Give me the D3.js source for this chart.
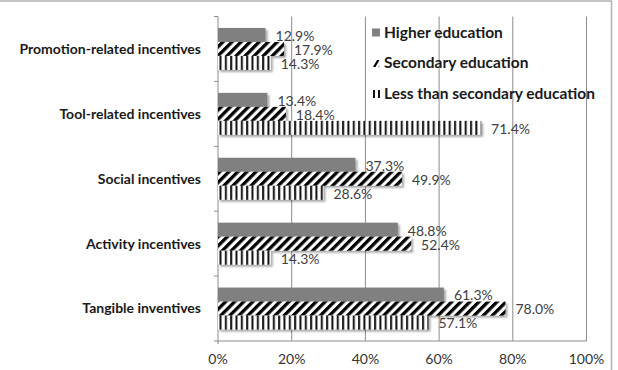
<!DOCTYPE html>
<html>
<head>
<meta charset="utf-8">
<script src="https://cdn.jsdelivr.net/npm/d3@7"></script>
<style>
  body { margin: 0; background: #fff; }
  #main { width: 618px; height: 370px; }
</style>
</head>
<body>
<div id="main"></div>
<script>
'use strict';

var categories = ['Promotion-related incentives', 'Tool-related incentives', 'Social incentives', 'Activity incentives', 'Tangible inventives'];
var seriesNames = ['Higher education', 'Secondary education', 'Less than secondary education'];
var higherEdu = [12.9, 13.4, 37.3, 48.8, 61.3];
var secondaryEdu = [17.9, 18.4, 49.9, 52.4, 78.0];
var lessEdu = [14.3, 71.4, 28.6, 14.3, 57.1];
var xTicks = [0, 20, 40, 60, 80, 100];

var width = 618, height = 370;
var M = { left: 218, right: 586.5, top: 16.5, bottom: 341 };
var svg = d3.select('#main').append('svg').attr('width', width).attr('height', height);
var defs = svg.append('defs');

// patterns + shadow
var diag = defs.append('pattern').attr('id', 'diag')
  .attr('patternUnits', 'userSpaceOnUse').attr('width', 6.4).attr('height', 6.4)
  .attr('patternTransform', 'rotate(45)');
diag.append('rect').attr('width', 6.4).attr('height', 6.4).attr('fill', '#fff');
diag.append('rect').attr('width', 3.3).attr('height', 6.4).attr('fill', '#000');

var vert = defs.append('pattern').attr('id', 'vert')
  .attr('patternUnits', 'userSpaceOnUse').attr('width', 5.33).attr('height', 10);
vert.append('rect').attr('width', 5.33).attr('height', 10).attr('fill', '#fff');
vert.append('rect').attr('x', 1).attr('width', 2).attr('height', 10).attr('fill', '#111');

var shadow = defs.append('filter').attr('id', 'shadow')
  .attr('x', '-10%').attr('y', '-30%').attr('width', '130%').attr('height', '180%');
shadow.append('feGaussianBlur').attr('in', 'SourceAlpha').attr('stdDeviation', 1.2).attr('result', 'b');
shadow.append('feOffset').attr('in', 'b').attr('dx', 2).attr('dy', 2).attr('result', 'o');
shadow.append('feComponentTransfer').attr('in', 'o').attr('result', 's')
  .append('feFuncA').attr('type', 'linear').attr('slope', 0.35);
var mg = shadow.append('feMerge');
mg.append('feMergeNode').attr('in', 's');
mg.append('feMergeNode').attr('in', 'SourceGraphic');

var fills = ['#808080', 'url(#diag)', 'url(#vert)'];

// outer border
svg.append('rect').attr('x', -5).attr('y', 1).attr('width', 616.5).attr('height', 400)
  .attr('fill', 'none').attr('stroke', '#b3b3b3').attr('stroke-width', 1.5);

var x = d3.scaleLinear().domain([0, 100]).range([M.left, M.right]);
var y = d3.scaleBand().domain(categories).range([M.top, M.bottom])
  .paddingInner(0.353).paddingOuter(0.1765);
var ySub = d3.scaleBand().domain(d3.range(3)).range([0, y.bandwidth()]);

// gridlines
svg.append('g').selectAll('line').data(xTicks.slice(1)).enter().append('line')
  .attr('x1', function(d){ return x(d); }).attr('x2', function(d){ return x(d); })
  .attr('y1', M.top).attr('y2', M.bottom)
  .attr('stroke', '#8c8c8c').attr('stroke-width', 1);

// bottom line
svg.append('line').attr('x1', M.left).attr('x2', M.right).attr('y1', M.bottom).attr('y2', M.bottom)
  .attr('stroke', '#8c8c8c');

// y axis with ticks at band edges
var yAxisG = svg.append('g');
yAxisG.append('line').attr('x1', M.left).attr('x2', M.left).attr('y1', M.top).attr('y2', M.bottom + 3)
  .attr('stroke', '#8c8c8c');
var step = y.step();
yAxisG.selectAll('.tk').data(d3.range(categories.length + 1)).enter().append('line')
  .attr('x1', M.left - 4).attr('x2', M.left)
  .attr('y1', function(i){ return M.top + i * step; }).attr('y2', function(i){ return M.top + i * step; })
  .attr('stroke', '#8c8c8c');

yAxisG.selectAll('text').data(categories).enter().append('text')
  .attr('x', 201).attr('y', function(d){ return y(d) + y.bandwidth() / 2; })
  .attr('dy', '0.35em').attr('text-anchor', 'end')
  .attr('font-family', 'Lato, sans-serif').attr('font-weight', 'bold').attr('font-size', 14)
  .attr('fill', '#1a1a1a').text(function(d){ return d; });

// x tick labels
svg.append('g').selectAll('text').data(xTicks).enter().append('text')
  .attr('x', function(d){ return x(d); }).attr('y', 364).attr('text-anchor', 'middle')
  .attr('font-family', 'Lato, sans-serif').attr('font-size', 14).attr('fill', '#333')
  .text(function(d){ return d + '%'; });

// bars
var series = [higherEdu, secondaryEdu, lessEdu];
var rows = [];
categories.forEach(function(c, ci) {
  series.forEach(function(s, si) {
    rows.push({ cat: c, s: si, v: s[ci] });
  });
});

var bars = svg.append('g');
bars.selectAll('rect').data(rows).enter().append('rect')
  .attr('x', x(0))
  .attr('y', function(d){ return y(d.cat) + ySub(d.s); })
  .attr('width', function(d){ return x(d.v) - x(0); })
  .attr('height', ySub.bandwidth())
  .attr('fill', function(d){ return fills[d.s]; })
  .attr('filter', 'url(#shadow)');

bars.selectAll('text').data(rows).enter().append('text')
  .attr('x', function(d){ return x(d.v) + 10; })
  .attr('y', function(d){ return y(d.cat) + ySub(d.s) + ySub.bandwidth() / 2 + 1; })
  .attr('dy', '0.35em')
  .attr('font-family', 'Lato, sans-serif').attr('font-size', 14).attr('fill', '#404040')
  .text(function(d){ return d.v.toFixed(1) + '%'; });

// legend
var legend = svg.append('g');
var legY = [32.5, 63, 94];
seriesNames.forEach(function(n, i) {
  var g = legend.append('g').attr('transform', 'translate(372,' + legY[i] + ')');
  if (i === 0) {
    g.append('rect').attr('x', 0).attr('y', -4).attr('width', 8).attr('height', 8).attr('fill', '#808080');
  } else if (i === 1) {
    g.append('path').attr('d', 'M1,4 L5,-3 L7.5,-3 L3.5,4 Z').attr('fill', '#000');
    g.append('circle').attr('cx', 7).attr('cy', 3.5).attr('r', 0.6).attr('fill', '#555');
  } else {
    g.append('rect').attr('x', 1).attr('y', -4).attr('width', 2).attr('height', 8).attr('fill', '#111');
    g.append('rect').attr('x', 6).attr('y', -4).attr('width', 2).attr('height', 8).attr('fill', '#111');
  }
  g.append('text').attr('x', 12).attr('y', 0).attr('dy', '0.35em')
    .attr('font-family', 'Lato, sans-serif').attr('font-weight', 'bold').attr('font-size', 15.5)
    .attr('fill', '#1a1a1a').text(n);
});
</script>
</body>
</html>
